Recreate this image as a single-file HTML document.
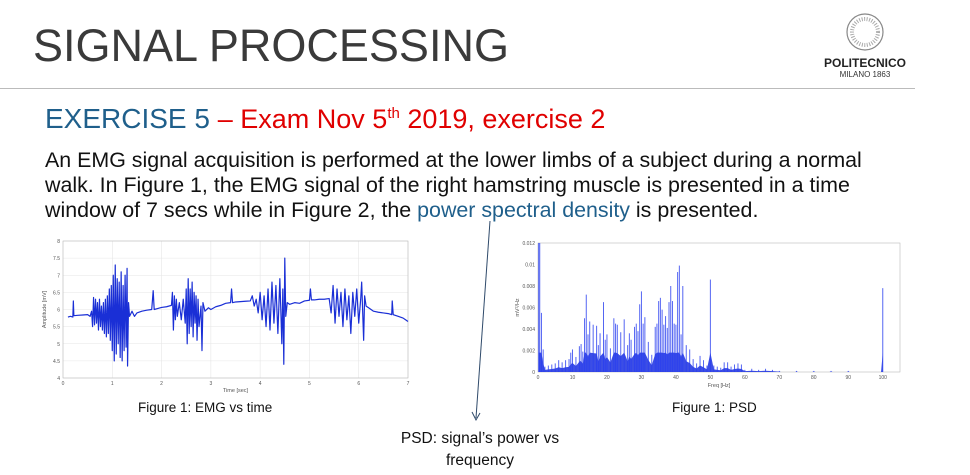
<!DOCTYPE html>
<html><head><meta charset="utf-8">
<style>
body{margin:0;width:970px;height:475px;background:#fff;overflow:hidden;position:relative;font-family:"Liberation Sans",sans-serif;}
.abs{position:absolute;}
.ln{white-space:nowrap;}
</style></head><body>
<div class="abs" style="left:33px;top:20px;font-size:45px;color:#3a3a3a;">SIGNAL PROCESSING</div>
<div class="abs" style="left:815px;top:12px;width:100px;text-align:center;">
 <svg width="40" height="40" style="display:block;margin:0 auto;"><circle cx="20" cy="20" r="18" fill="none" stroke="#888" stroke-width="1.2"/><circle cx="20" cy="20" r="13" fill="none" stroke="#aaa" stroke-width="4" stroke-dasharray="1 1.5"/></svg>
 <div style="font-size:12px;font-weight:bold;color:#222;margin-top:4px;">POLITECNICO</div>
 <div style="font-size:8px;color:#333;">MILANO 1863</div>
</div>
<div class="abs" style="left:0;top:88px;width:915px;height:1px;background:#bbb;"></div>
<div class="abs" style="left:45px;top:103px;font-size:28px;white-space:nowrap;"><span style="color:#1f5f8b;">EXERCISE 5</span> <span style="color:#e00000;font-size:27px;">– Exam Nov 5<sup style="font-size:15px;">th</sup> 2019, exercise 2</span></div>
<div class="abs" style="left:45px;top:148px;font-size:21.4px;line-height:25px;color:#111;">
<div class="ln">An EMG signal acquisition is performed at the lower limbs of a subject during a normal</div>
<div class="ln">walk. In Figure 1, the EMG signal of the right hamstring muscle is presented in a time</div>
<div class="ln">window of 7 secs while in Figure 2, the <span style="color:#1f5f8b;">power spectral density</span> is presented.</div>
</div>
<svg class="abs" style="left:0;top:0" width="970" height="475" id="svg"></svg>
<div class="abs" style="left:138px;top:400px;font-size:13.5px;color:#111;">Figure 1: EMG vs time</div>
<div class="abs" style="left:672px;top:400px;font-size:13.5px;color:#111;">Figure 1: PSD</div>
<div class="abs" style="left:370px;top:428px;width:220px;text-align:center;font-size:15.5px;line-height:22px;color:#111;">PSD: signal’s power vs<br>frequency</div>
<script>
const emgT=[0.1,0.15,0.2,0.21,0.22,0.3,0.4,0.5,0.55,0.58,0.6,0.62,0.64,0.66,0.68,0.7,0.72,0.74,0.76,0.78,0.8,0.82,0.84,0.86,0.88,0.9,0.92,0.94,0.96,0.98,1.0,1.02,1.04,1.06,1.08,1.1,1.12,1.14,1.16,1.18,1.2,1.22,1.24,1.26,1.28,1.3,1.31,1.33,1.35,1.4,1.45,1.5,1.6,1.7,1.8,1.83,1.85,1.9,2.0,2.1,2.2,2.22,2.24,2.26,2.28,2.3,2.32,2.36,2.4,2.44,2.48,2.5,2.52,2.54,2.56,2.58,2.6,2.62,2.64,2.66,2.68,2.7,2.72,2.74,2.76,2.8,2.82,2.84,2.88,2.95,3.0,3.1,3.2,3.3,3.4,3.42,3.44,3.5,3.6,3.7,3.8,3.84,3.88,3.92,3.96,4.0,4.04,4.08,4.12,4.16,4.2,4.24,4.28,4.32,4.36,4.4,4.44,4.46,4.48,4.5,4.52,4.55,4.6,4.7,4.8,4.9,5.0,5.02,5.04,5.1,5.2,5.3,5.4,5.44,5.48,5.52,5.56,5.6,5.64,5.68,5.72,5.76,5.8,5.84,5.88,5.92,5.96,6.0,6.04,6.06,6.1,6.12,6.15,6.2,6.3,6.4,6.5,6.6,6.67,6.68,6.7,6.8,6.9,6.95,7.0];
const emgV=[5.78,5.8,5.78,6.25,5.82,5.83,5.84,5.85,5.8,5.95,5.5,6.35,5.55,6.3,5.6,6.2,5.4,6.3,5.5,6.1,5.4,6.2,5.3,6.3,5.2,6.4,5.3,6.6,5.1,6.7,4.8,7.0,4.5,7.3,4.7,6.9,5.0,6.8,4.6,7.1,4.5,6.7,4.8,7.0,4.9,7.2,4.35,6.2,5.8,5.95,5.8,5.9,5.95,5.98,6.0,6.55,6.0,6.02,6.06,6.08,6.12,6.5,5.4,6.4,5.7,6.3,5.8,6.2,5.7,6.3,5.6,6.6,5.0,6.9,5.3,6.6,5.5,6.8,5.2,6.5,5.6,6.4,5.1,6.3,5.5,6.1,4.8,6.2,5.95,6.05,6.0,6.08,6.12,6.18,6.2,6.6,6.2,6.22,6.23,6.24,6.25,6.4,6.1,6.3,5.9,6.5,5.7,6.4,5.5,6.6,5.4,6.8,5.6,6.7,5.3,6.9,5.0,6.6,4.4,7.5,5.8,6.2,6.15,6.2,6.18,6.25,6.27,6.6,6.28,6.28,6.3,6.3,6.32,5.9,6.7,5.6,6.6,5.8,6.5,5.5,6.6,5.7,6.4,5.3,6.5,5.8,6.6,5.6,6.3,6.8,5.1,6.4,6.1,6.05,5.95,5.92,5.9,5.88,5.85,6.25,5.85,5.8,5.75,5.7,5.65];
const emgXTicks=[0,1,2,3,4,5,6,7];
const emgYTicks=[4,4.5,5,5.5,6,6.5,7,7.5,8];
const psdF=[0.2,0.5,1,1.5,2,3,4,5,6,7,8,9,9.5,10,11,12,12.5,13,13.5,14,14.5,15,16,17,17.5,18,19,19.5,20,21,22,22.5,23,24,25,26,26.5,27,28,28.5,29,29.5,30,30.5,31,32,33,34,34.5,35,35.5,36,36.5,37,37.5,38,38.5,39,39.5,40,40.5,41,41.5,42,43,44,45,46,47,48,49,50,51,52,53,54,55,56,57,58,59,60,62,64,66,68,70,75,80,85,90,100];
const psdP=[.012,.012,.0055,.0021,.0005,.0006,.0007,.0008,.0011,.0009,.0011,.0012,.0018,.0021,.0014,.0024,.0026,.0019,.005,.0072,.0035,.0047,.0044,.0043,.0025,.0036,.0065,.003,.0035,.0022,.005,.0045,.0044,.0037,.0049,.0025,.0036,.003,.0042,.0045,.0038,.0063,.0075,.0045,.0051,.0028,.0016,.0042,.0045,.0066,.0069,.0058,.0044,.0052,.0041,.0065,.008,.0066,.0045,.0044,.0093,.0099,.0035,.008,.0025,.0021,.0012,.0008,.0015,.0011,.0006,.0086,.0006,.0005,.0004,.0009,.0009,.0005,.0007,.0008,.0007,.0002,.0003,.0002,.0003,.0002,.0001,.0001,.0001,.0001,.0001,.0078];
const psdXTicks=[0,10,20,30,40,50,60,70,80,90,100];
const psdYTicks=[0,0.002,0.004,0.006,0.008,0.01,0.012];

const svg=document.getElementById('svg');
const NS='http://www.w3.org/2000/svg';
function mk(t,a,p){const e=document.createElementNS(NS,t);for(const k in a)e.setAttribute(k,a[k]);(p||svg).appendChild(e);return e;}

// EMG chart
const L={x0:63,x1:408,y0:241,y1:378,xmin:0,xmax:7,ymin:4,ymax:8};
const ex=t=>L.x0+(t-L.xmin)/(L.xmax-L.xmin)*(L.x1-L.x0);
const ey=v=>L.y1-(v-L.ymin)/(L.ymax-L.ymin)*(L.y1-L.y0);
const g1=mk('g',{});


emgXTicks.forEach(t=>{const l=mk('line',{x1:ex(t),x2:ex(t),y1:L.y0,y2:L.y1,stroke:'#e6e6e6','stroke-width':0.6},g1);
 const tx=mk('text',{x:ex(t),y:L.y1+7,'font-size':5,'text-anchor':'middle',fill:'#555'},g1);tx.textContent=t;});
emgYTicks.forEach(v=>{const l=mk('line',{x1:L.x0,x2:L.x1,y1:ey(v),y2:ey(v),stroke:'#e6e6e6','stroke-width':0.6},g1);
 const tx=mk('text',{x:L.x0-3,y:ey(v)+2,'font-size':5,'text-anchor':'end',fill:'#555'},g1);tx.textContent=v;});
const fr1=mk('rect',{x:L.x0,y:L.y0,width:L.x1-L.x0,height:L.y1-L.y0,fill:'none',stroke:'#bbb','stroke-width':0.6},g1);

const ep=mk('polyline',{points:emgT.map((t,i)=>ex(t)+','+ey(emgV[i])).join(' '),fill:'none',stroke:'#1a2fd6','stroke-width':1.2,'stroke-linejoin':'round'},g1);

const xl1=mk('text',{x:(L.x0+L.x1)/2,y:L.y1+14,'font-size':5.5,'text-anchor':'middle',fill:'#555'},g1);xl1.textContent='Time [sec]';

const yl1=mk('text',{x:0,y:0,'font-size':5.5,'text-anchor':'middle',fill:'#555',transform:`translate(${L.x0-17},${(L.y0+L.y1)/2}) rotate(-90)`},g1);yl1.textContent='Amplitude [mV]';


// PSD chart
const R={x0:538,x1:900,y0:243,y1:372,xmin:0,xmax:105,ymin:0,ymax:0.012};
const px=f=>R.x0+(f-R.xmin)/(R.xmax-R.xmin)*(R.x1-R.x0);
const py=v=>R.y1-(v-R.ymin)/(R.ymax-R.ymin)*(R.y1-R.y0);
const g2=mk('g',{});


const fr2=mk('rect',{x:R.x0,y:R.y0,width:R.x1-R.x0,height:R.y1-R.y0,fill:'none',stroke:'#bbb','stroke-width':0.6},g2);

psdXTicks.forEach(t=>{const tx=mk('text',{x:px(t),y:R.y1+7,'font-size':5,'text-anchor':'middle',fill:'#555'},g2);tx.textContent=t;});
psdYTicks.forEach(v=>{const tx=mk('text',{x:R.x0-3,y:py(v)+2,'font-size':5,'text-anchor':'end',fill:'#555'},g2);tx.textContent=v;});
let pts=[px(psdF[0])+','+py(0)];
psdF.forEach((f,i)=>{
 if(i>0 && f-psdF[i-1]>2.5){pts.push(px(psdF[i-1]+0.5)+','+py(0));pts.push(px(f-0.5)+','+py(0));}
 pts.push(px(f)+','+py(Math.min(psdP[i]*0.4,0.0018)));});
pts.push(px(psdF[psdF.length-1])+','+py(0));
const fill=mk('polygon',{points:pts.join(' '),fill:'#1a2fe0',opacity:0.85},g2);

psdF.forEach((f,i)=>{const l=mk('line',{x1:px(f),x2:px(f),y1:py(0),y2:py(psdP[i]),stroke:'#2a3ff0','stroke-width':1,opacity:0.8},g2);
 });
const xl2=mk('text',{x:(R.x0+R.x1)/2,y:R.y1+15,'font-size':5.5,'text-anchor':'middle',fill:'#555'},g2);xl2.textContent='Freq [Hz]';

const yl2=mk('text',{x:0,y:0,'font-size':5.5,'text-anchor':'middle',fill:'#555',transform:`translate(${R.x0-19},${(R.y0+R.y1)/2}) rotate(-90)`},g2);yl2.textContent='mV²/Hz';


const ar=mk('line',{x1:490,y1:221,x2:476,y2:418,stroke:'#2f4a6a','stroke-width':1});

const ah=mk('polyline',{points:'472,412 476,420 480,413',fill:'none',stroke:'#2f4a6a','stroke-width':1});

</script>
</body></html>
